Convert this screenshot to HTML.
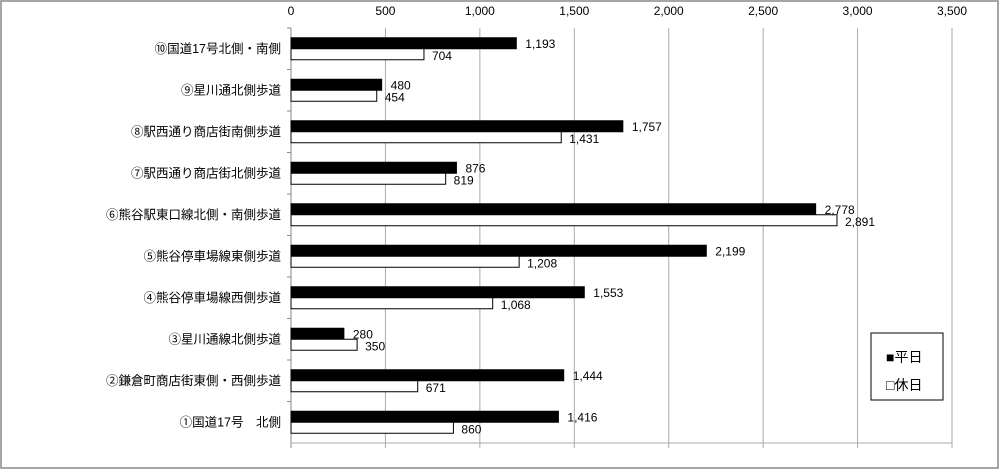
<!DOCTYPE html>
<html><head><meta charset="utf-8"><style>
html,body{margin:0;padding:0;background:#fff}
svg{display:block;font-family:"Liberation Sans","Noto Sans CJK JP",sans-serif}
</style></head><body>
<svg id="chart" width="1000" height="470">
<rect x="1" y="1" width="997" height="467" fill="#fff" stroke="#888" stroke-width="1.5"/>
<g id="grid"></g><g id="bars"></g><g id="labels"></g>
<g>
<rect x="871" y="333" width="72" height="67" fill="#fff" stroke="#000" stroke-width="1"/>
<text x="886" y="362" font-size="14">■平日</text>
<text x="886" y="390" font-size="14">□休日</text>
</g>
</svg>
<script>
const categories=["⑩国道17号北側・南側","⑨星川通北側歩道","⑧駅西通り商店街南側歩道","⑦駅西通り商店街北側歩道","⑥熊谷駅東口線北側・南側歩道","⑤熊谷停車場線東側歩道","④熊谷停車場線西側歩道","③星川通線北側歩道","②鎌倉町商店街東側・西側歩道","①国道17号　北側"];
const weekday=[1193,480,1757,876,2778,2199,1553,280,1444,1416];
const holiday=[704,454,1431,819,2891,1208,1068,350,671,860];
const ticks=[0,500,1000,1500,2000,2500,3000,3500];
const tickLabels=["0","500","1,000","1,500","2,000","2,500","3,000","3,500"];
const NS="http://www.w3.org/2000/svg";
const x0=291,x1=952,yTop=28,yBottom=443,maxV=3500;
const xs=v=>x0+(v/maxV)*(x1-x0);
const band=(yBottom-yTop)/categories.length;
const fmt=v=>v.toLocaleString("en-US");
function mk(tag,attrs,parent){const e=document.createElementNS(NS,tag);for(const k in attrs)e.setAttribute(k,attrs[k]);parent.appendChild(e);return e;}
const grid=document.getElementById("grid"),bars=document.getElementById("bars"),labels=document.getElementById("labels");
ticks.forEach((t,i)=>{
  const gl=mk("line",{x1:xs(t),x2:xs(t),y1:yTop,y2:yBottom+5,stroke:i==0?"#888":"#aaa","stroke-width":1},grid);
  
  
  const tl=mk("text",{x:xs(t),y:15,"font-size":12,"text-anchor":"middle"},grid);
  tl.textContent=tickLabels[i];
  
  
});
const ax=mk("line",{x1:x0,x2:x1,y1:yBottom,y2:yBottom,stroke:"#aaa"},grid);


categories.forEach((c,i)=>{
  const bt=yTop+i*band, cy=bt+band/2;
  const tk=mk("line",{x1:x0-4,x2:x0,y1:bt,y2:bt,stroke:"#888"},grid);
  
  
  const lab=mk("text",{x:281,y:cy+4,"font-size":12.5,"text-anchor":"end"},labels);
  lab.textContent=c;
  
  
  const b1=mk("rect",{x:x0,y:cy-11,width:xs(weekday[i])-x0,height:11,fill:"#000",stroke:"#000"},bars);
  
  
  const b2=mk("rect",{x:x0,y:cy,width:xs(holiday[i])-x0,height:11,fill:"#fff",stroke:"#000"},bars);
  
  
  const v1=mk("text",{x:xs(weekday[i])+9,y:cy-1,"font-size":12},labels);
  v1.textContent=fmt(weekday[i]);
  
  
  const v2=mk("text",{x:xs(holiday[i])+8,y:cy+11,"font-size":12},labels);
  v2.textContent=fmt(holiday[i]);
  
  
});
</script>
</body></html>
